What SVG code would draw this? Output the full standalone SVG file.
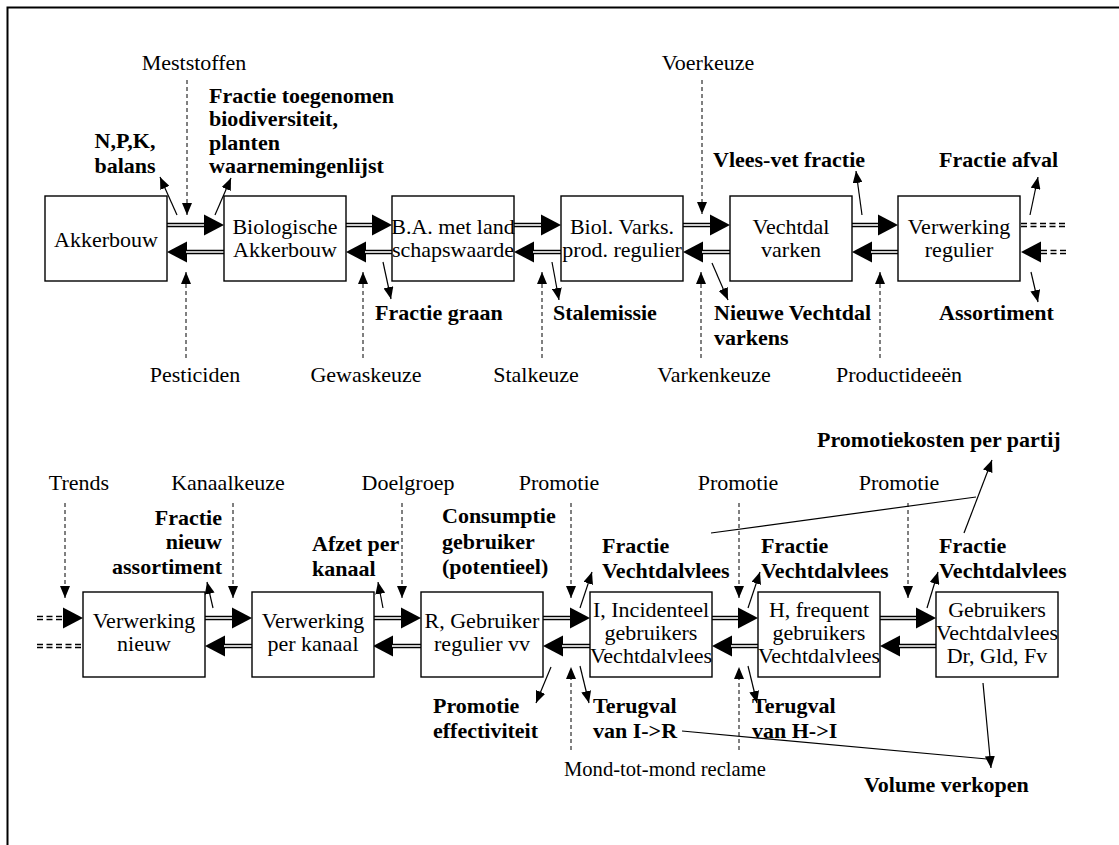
<svg xmlns="http://www.w3.org/2000/svg" width="1119" height="845" viewBox="0 0 1119 845">
<style>
.box{fill:#fff;stroke:#000;stroke-width:1.4}
.t{font-family:'Liberation Serif','Times New Roman',serif;font-size:22px;fill:#000}
.b{font-weight:bold}
.c{text-anchor:middle}
.e{text-anchor:end}
.dl{stroke:#000;stroke-width:1;stroke-dasharray:4 3;fill:none}
.ar{stroke:#000;stroke-width:1.2;fill:none}
.dbo{stroke:#000;stroke-width:4.5}
.dbi{stroke:#fff;stroke-width:1.6}
.dbd{stroke:#000;stroke-width:4.5;stroke-dasharray:6 3.5}
.hd{fill:#000}
</style>
<defs>
<marker id="sa" markerUnits="userSpaceOnUse" markerWidth="12" markerHeight="10" refX="12" refY="5" orient="auto" viewBox="0 0 12 10"><path d="M0,0L12,5L0,10Z" fill="#000"/></marker>
</defs>
<rect width="1119" height="845" fill="#fff"/>
<path d="M7.5,845V7.5H1119" fill="none" stroke="#000" stroke-width="2"/>

<g id="connectors">
<!-- top row double arrows -->
<g>
<line class="dbo" x1="167" y1="225" x2="205" y2="225"/><line class="dbi" x1="167" y1="225" x2="205" y2="225"/><polygon class="hd" points="204,214.5 224,225 204,235.5"/>
<polygon class="hd" points="187,241.5 167,252 187,262.5"/><line class="dbo" x1="186" y1="252" x2="224" y2="252"/><line class="dbi" x1="186" y1="252" x2="224" y2="252"/>

<line class="dbo" x1="346" y1="225" x2="373" y2="225"/><line class="dbi" x1="346" y1="225" x2="373" y2="225"/><polygon class="hd" points="372,214.5 392,225 372,235.5"/>
<polygon class="hd" points="366,241.5 346,252 366,262.5"/><line class="dbo" x1="365" y1="252" x2="392" y2="252"/><line class="dbi" x1="365" y1="252" x2="392" y2="252"/>

<line class="dbo" x1="514" y1="225" x2="542" y2="225"/><line class="dbi" x1="514" y1="225" x2="542" y2="225"/><polygon class="hd" points="541,214.5 561,225 541,235.5"/>
<polygon class="hd" points="534,241.5 514,252 534,262.5"/><line class="dbo" x1="533" y1="252" x2="561" y2="252"/><line class="dbi" x1="533" y1="252" x2="561" y2="252"/>

<line class="dbo" x1="683" y1="225" x2="711" y2="225"/><line class="dbi" x1="683" y1="225" x2="711" y2="225"/><polygon class="hd" points="710,214.5 730,225 710,235.5"/>
<polygon class="hd" points="703,241.5 683,252 703,262.5"/><line class="dbo" x1="702" y1="252" x2="730" y2="252"/><line class="dbi" x1="702" y1="252" x2="730" y2="252"/>

<line class="dbo" x1="852" y1="225" x2="879" y2="225"/><line class="dbi" x1="852" y1="225" x2="879" y2="225"/><polygon class="hd" points="878,214.5 898,225 878,235.5"/>
<polygon class="hd" points="872,241.5 852,252 872,262.5"/><line class="dbo" x1="871" y1="252" x2="898" y2="252"/><line class="dbi" x1="871" y1="252" x2="898" y2="252"/>

<line class="dbd" x1="1021" y1="225" x2="1068" y2="225"/><line class="dbi" x1="1021" y1="225" x2="1068" y2="225"/>
<polygon class="hd" points="1041,241.5 1021,252 1041,262.5"/><line class="dbd" x1="1041" y1="252" x2="1068" y2="252"/><line class="dbi" x1="1041" y1="252" x2="1068" y2="252"/>
</g>
<!-- bottom row double arrows -->
<g>
<line class="dbd" x1="37" y1="618" x2="64" y2="618"/><line class="dbi" x1="37" y1="618" x2="64" y2="618"/><polygon class="hd" points="63,607.5 83,618 63,628.5"/>
<line class="dbd" x1="37" y1="646" x2="83" y2="646"/><line class="dbi" x1="37" y1="646" x2="83" y2="646"/>

<line class="dbo" x1="205" y1="618" x2="233" y2="618"/><line class="dbi" x1="205" y1="618" x2="233" y2="618"/><polygon class="hd" points="232,607.5 252,618 232,628.5"/>
<polygon class="hd" points="225,635.5 205,646 225,656.5"/><line class="dbo" x1="224" y1="646" x2="252" y2="646"/><line class="dbi" x1="224" y1="646" x2="252" y2="646"/>

<line class="dbo" x1="373" y1="618" x2="402" y2="618"/><line class="dbi" x1="373" y1="618" x2="402" y2="618"/><polygon class="hd" points="401,607.5 421,618 401,628.5"/>
<polygon class="hd" points="393,635.5 373,646 393,656.5"/><line class="dbo" x1="392" y1="646" x2="421" y2="646"/><line class="dbi" x1="392" y1="646" x2="421" y2="646"/>

<line class="dbo" x1="543" y1="618" x2="571" y2="618"/><line class="dbi" x1="543" y1="618" x2="571" y2="618"/><polygon class="hd" points="570,607.5 590,618 570,628.5"/>
<polygon class="hd" points="563,635.5 543,646 563,656.5"/><line class="dbo" x1="562" y1="646" x2="590" y2="646"/><line class="dbi" x1="562" y1="646" x2="590" y2="646"/>

<line class="dbo" x1="712" y1="618" x2="739" y2="618"/><line class="dbi" x1="712" y1="618" x2="739" y2="618"/><polygon class="hd" points="738,607.5 758,618 738,628.5"/>
<polygon class="hd" points="732,635.5 712,646 732,656.5"/><line class="dbo" x1="731" y1="646" x2="758" y2="646"/><line class="dbi" x1="731" y1="646" x2="758" y2="646"/>

<line class="dbo" x1="880" y1="618" x2="917" y2="618"/><line class="dbi" x1="880" y1="618" x2="917" y2="618"/><polygon class="hd" points="916,607.5 936,618 916,628.5"/>
<polygon class="hd" points="900,635.5 880,646 900,656.5"/><line class="dbo" x1="899" y1="646" x2="936" y2="646"/><line class="dbi" x1="899" y1="646" x2="936" y2="646"/>
</g>
<!-- dashed inputs -->
<g marker-end="url(#sa)">
<line class="dl" x1="187" y1="80" x2="187" y2="215"/>
<line class="dl" x1="702" y1="80" x2="702" y2="214"/>
<line class="dl" x1="186" y1="358" x2="186" y2="272"/>
<line class="dl" x1="363" y1="358" x2="363" y2="272"/>
<line class="dl" x1="542" y1="358" x2="542" y2="272"/>
<line class="dl" x1="701" y1="358" x2="701" y2="272"/>
<line class="dl" x1="880" y1="358" x2="880" y2="272"/>
<line class="dl" x1="65" y1="503" x2="65" y2="598"/>
<line class="dl" x1="233" y1="503" x2="233" y2="598"/>
<line class="dl" x1="402" y1="503" x2="402" y2="598"/>
<line class="dl" x1="571" y1="503" x2="571" y2="598"/>
<line class="dl" x1="739" y1="503" x2="739" y2="598"/>
<line class="dl" x1="908" y1="503" x2="908" y2="598"/>
<line class="dl" x1="571" y1="750" x2="571" y2="667"/>
<line class="dl" x1="739" y1="750" x2="739" y2="667"/>
</g>
<!-- output arrows -->
<g marker-end="url(#sa)">
<line class="ar" x1="177" y1="215" x2="160" y2="177"/>
<line class="ar" x1="215" y1="215" x2="231" y2="178"/>
<line class="ar" x1="862" y1="215" x2="856" y2="171"/>
<line class="ar" x1="1030" y1="215" x2="1038" y2="177"/>
<line class="ar" x1="383" y1="262" x2="391" y2="299"/>
<line class="ar" x1="552" y1="262" x2="559" y2="300"/>
<line class="ar" x1="712" y1="263" x2="728" y2="300"/>
<line class="ar" x1="1031" y1="272" x2="1038" y2="302"/>
<line class="ar" x1="213" y1="608" x2="207" y2="582"/>
<line class="ar" x1="383" y1="608" x2="378" y2="582"/>
<line class="ar" x1="580" y1="608" x2="592" y2="572"/>
<line class="ar" x1="748" y1="608" x2="760" y2="572"/>
<line class="ar" x1="927" y1="608" x2="938" y2="572"/>
<line class="ar" x1="964" y1="533" x2="992" y2="460"/>
<line class="ar" x1="551" y1="667" x2="536" y2="703"/>
<line class="ar" x1="580" y1="666" x2="589" y2="703"/>
<line class="ar" x1="748" y1="666" x2="757" y2="703"/>
<line class="ar" x1="983" y1="683" x2="991" y2="768"/>
</g>
<line class="ar" x1="711" y1="533" x2="976" y2="497"/>
<line class="ar" x1="682" y1="731" x2="987" y2="759"/>
</g>

<g id="n-akkerbouw"><rect class="box" x="45" y="196" width="122" height="85"/><text class="t c" x="106" y="247">Akkerbouw</text></g>
<g id="n-bio-akkerbouw"><rect class="box" x="224" y="196" width="122" height="85"/><text class="t c" x="285" y="234">Biologische</text><text class="t c" x="285" y="257">Akkerbouw</text></g>
<g id="n-ba-land"><rect class="box" x="392" y="196" width="122" height="85"/><text class="t c" x="453" y="234">B.A. met land</text><text class="t c" x="453" y="257">schapswaarde</text></g>
<g id="n-biol-varks"><rect class="box" x="561" y="196" width="122" height="85"/><text class="t c" x="622" y="234">Biol. Varks.</text><text class="t c" x="622" y="257">prod. regulier</text></g>
<g id="n-vechtdal-varken"><rect class="box" x="730" y="196" width="122" height="85"/><text class="t c" x="791" y="234">Vechtdal</text><text class="t c" x="791" y="257">varken</text></g>
<g id="n-verwerking-regulier"><rect class="box" x="898" y="196" width="122" height="85"/><text class="t c" x="959" y="234">Verwerking</text><text class="t c" x="959" y="257">regulier</text></g>

<g id="n-verwerking-nieuw"><rect class="box" x="83" y="592" width="122" height="85"/><text class="t c" x="144" y="628">Verwerking</text><text class="t c" x="144" y="651">nieuw</text></g>
<g id="n-verwerking-kanaal"><rect class="box" x="252" y="592" width="122" height="85"/><text class="t c" x="313" y="628">Verwerking</text><text class="t c" x="313" y="651">per kanaal</text></g>
<g id="n-r-gebruiker"><rect class="box" x="421" y="592" width="122" height="85"/><text class="t c" x="482" y="628">R, Gebruiker</text><text class="t c" x="482" y="651">regulier vv</text></g>
<g id="n-i-incidenteel"><rect class="box" x="590" y="592" width="122" height="85"/><text class="t c" x="651" y="617">I, Incidenteel</text><text class="t c" x="651" y="640">gebruikers</text><text class="t c" x="651" y="663">Vechtdalvlees</text></g>
<g id="n-h-frequent"><rect class="box" x="758" y="592" width="122" height="85"/><text class="t c" x="819" y="617">H, frequent</text><text class="t c" x="819" y="640">gebruikers</text><text class="t c" x="819" y="663">Vechtdalvlees</text></g>
<g id="n-gebruikers"><rect class="box" x="936" y="592" width="122" height="85"/><text class="t c" x="997" y="617">Gebruikers</text><text class="t c" x="997" y="640">Vechtdalvlees</text><text class="t c" x="997" y="663">Dr, Gld, Fv</text></g>

<g id="labels">
<text class="t c" x="194" y="70">Meststoffen</text>
<text class="t c" x="708" y="70">Voerkeuze</text>
<text class="t b c" x="125" y="148">N,P,K,</text>
<text class="t b c" x="125" y="173">balans</text>
<text class="t b" x="209" y="103">Fractie toegenomen</text>
<text class="t b" x="209" y="126">biodiversiteit,</text>
<text class="t b" x="209" y="150">planten</text>
<text class="t b" x="209" y="173">waarnemingenlijst</text>
<text class="t b" x="713" y="167">Vlees-vet fractie</text>
<text class="t b" x="939" y="167">Fractie afval</text>
<text class="t b" x="375" y="320">Fractie graan</text>
<text class="t b" x="553" y="320">Stalemissie</text>
<text class="t b" x="714" y="320">Nieuwe Vechtdal</text>
<text class="t b" x="714" y="345">varkens</text>
<text class="t b" x="939" y="320">Assortiment</text>
<text class="t c" x="195" y="382">Pesticiden</text>
<text class="t c" x="366" y="382">Gewaskeuze</text>
<text class="t c" x="536" y="382">Stalkeuze</text>
<text class="t c" x="714" y="382">Varkenkeuze</text>
<text class="t c" x="899" y="382">Productideeën</text>

<text class="t b" x="817" y="447">Promotiekosten per partij</text>
<text class="t c" x="79" y="490">Trends</text>
<text class="t c" x="228" y="490">Kanaalkeuze</text>
<text class="t c" x="408" y="490">Doelgroep</text>
<text class="t c" x="559" y="490">Promotie</text>
<text class="t c" x="738" y="490">Promotie</text>
<text class="t c" x="899" y="490">Promotie</text>
<text class="t b e" x="222" y="525">Fractie</text>
<text class="t b e" x="222" y="549">nieuw</text>
<text class="t b e" x="222" y="574">assortiment</text>
<text class="t b" x="312" y="551">Afzet per</text>
<text class="t b" x="312" y="576">kanaal</text>
<text class="t b" x="442" y="523">Consumptie</text>
<text class="t b" x="442" y="549">gebruiker</text>
<text class="t b" x="442" y="574">(potentieel)</text>
<text class="t b" x="602" y="553">Fractie</text>
<text class="t b" x="602" y="578">Vechtdalvlees</text>
<text class="t b" x="761" y="553">Fractie</text>
<text class="t b" x="761" y="578">Vechtdalvlees</text>
<text class="t b" x="939" y="553">Fractie</text>
<text class="t b" x="939" y="578">Vechtdalvlees</text>
<text class="t b" x="433" y="713">Promotie</text>
<text class="t b" x="433" y="738">effectiviteit</text>
<text class="t b" x="593" y="713">Terugval</text>
<text class="t b" x="593" y="738">van I-&gt;R</text>
<text class="t b" x="752" y="713">Terugval</text>
<text class="t b" x="752" y="738">van H-&gt;I</text>
<text class="t" x="564" y="776" style="font-size:20.6px">Mond-tot-mond reclame</text>
<text class="t b" x="864" y="792">Volume verkopen</text>
</g>
</svg>
